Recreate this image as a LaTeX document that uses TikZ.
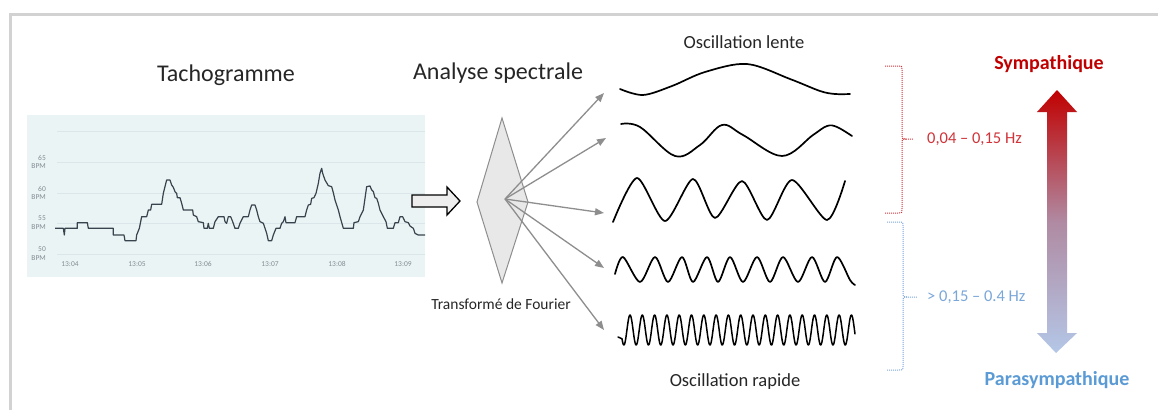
\documentclass[tikz,border=0pt]{standalone}
\usepackage{fontspec}
\setmainfont{Carlito}
\usetikzlibrary{arrows.meta}
\definecolor{symred}{HTML}{C00000}
\definecolor{parablue}{HTML}{5B9BD5}
\definecolor{arrowblue}{HTML}{B4C7E7}
\definecolor{arrowmid}{HTML}{B08AA2}
\definecolor{rangered}{HTML}{D0343A}
\definecolor{rangeblue}{HTML}{7AA7D9}
\definecolor{chartbg}{HTML}{EBF4F5}
\definecolor{gridc}{HTML}{DAE6E9}
\definecolor{tracec}{HTML}{37434D}
\definecolor{axlabc}{HTML}{838C93}
\definecolor{fftgray}{HTML}{8E8E8E}
\definecolor{framec}{HTML}{D2D2D2}
\begin{document}
\begin{tikzpicture}[x=1pt,y=-1pt,
  title/.style={font=\fontsize{24}{28}\selectfont, text=black!85},
  osclabel/.style={font=\fontsize{18.5}{22}\selectfont, text=black!85},
  axlab/.style={font=\fontsize{7.5}{8}\selectfont, text=axlabc, inner sep=0pt},
  fftarrow/.style={draw=fftgray, line width=1.3pt, -{Triangle[length=9pt,width=7pt]}},
  wave/.style={draw=black, line width=1.7pt, line join=round, line cap=round},
  rangetext/.style={font=\fontsize{16.5}{19}\selectfont, anchor=west, inner sep=0pt},
  brace/.style={densely dotted, line width=1pt},
  pole/.style={font=\bfseries\fontsize{20}{24}\selectfont}
]
\useasboundingbox (0,0) rectangle (1158,410);
\fill[white] (0,0) rectangle (1158,410);
\draw[line width=3pt, framec] (10,410) -- (10,14) -- (1158,14);

% titles
\node[title] (tacho) at (226,75) {Tachogramme};
\node[title] (spec) at (498,73) {Analyse spectrale};
\node[osclabel] (lente) at (744,42) {Oscillation lente};
\node[osclabel] (rapide) at (735,382) {Oscillation rapide};
\node[font=\fontsize{15.5}{18}\selectfont, text=black!85] (fourier) at (501,304) {Transformé de Fourier};

% chart
\fill[chartbg] (27,115) rectangle (425,277);
\foreach \y in {131,162,193,223,254} \draw[gridc, line width=0.8pt] (57,\y) -- (425,\y);
\foreach \v/\y [count=\i] in {65/162,60/193,55/223,50/254} {
  \node[axlab, anchor=east] (yv\i) at (46,\y-4.5) {\v};
  \node[axlab, anchor=east] (yb\i) at (46,\y+4.5) {BPM};
}
\foreach \t/\x [count=\i] in {13:04/70,13:05/137,13:06/203,13:07/270,13:08/337,13:09/403}
  \node[axlab] (xt\i) at (\x,264) {\t};
\begin{scope}[shift={(0,100)}, scale=0.33333]
\draw[tracec, line width=1.2pt, line join=round] (165,385) -- (190,385) -- (193,405) -- (195,385) -- (232,385) -- (232,368) -- (262,368) -- (265,385) -- (340,385) -- (340,405) -- (372,405) -- (375,422) -- (408,422) -- (410,405) -- (418,385) -- (425,350) -- (440,350) -- (445,330) -- (452,330) -- (455,313) -- (485,313) -- (490,280) -- (495,260) -- (500,240) -- (510,240) -- (515,255) -- (520,262) -- (525,275) -- (530,280) -- (532,293) -- (540,293) -- (545,310) -- (550,330) -- (578,330) -- (580,345) -- (590,350) -- (595,365) -- (610,368) -- (612,385) -- (622,385) -- (625,370) -- (628,385) -- (640,385) -- (645,365) -- (655,350) -- (672,350) -- (675,365) -- (680,370) -- (685,350) -- (692,350) -- (698,365) -- (705,385) -- (715,385) -- (720,370) -- (730,350) -- (745,350) -- (750,330) -- (755,315) -- (765,315) -- (770,330) -- (775,350) -- (780,365) -- (790,370) -- (795,385) -- (800,400) -- (805,422) -- (815,422) -- (820,405) -- (828,385) -- (840,385) -- (845,370) -- (850,365) -- (855,350) -- (858,368) -- (885,368) -- (890,350) -- (915,350) -- (920,330) -- (925,315) -- (932,313) -- (935,295) -- (942,293) -- (948,280) -- (955,250) -- (960,220) -- (965,205) -- (968,220) -- (975,240) -- (985,257) -- (995,260) -- (1000,278) -- (1005,300) -- (1015,330) -- (1020,350) -- (1030,385) -- (1060,385) -- (1062,368) -- (1075,365) -- (1080,350) -- (1090,330) -- (1100,260) -- (1110,258) -- (1115,270) -- (1120,275) -- (1125,293) -- (1130,295) -- (1135,310) -- (1140,330) -- (1150,350) -- (1158,365) -- (1162,385) -- (1180,385) -- (1185,368) -- (1195,368) -- (1200,350) -- (1208,350) -- (1215,365) -- (1225,368) -- (1230,378) -- (1240,385) -- (1245,400) -- (1255,405) -- (1275,405);
\end{scope}

% hollow arrow
\draw[line width=1.3pt, fill=black!7, line join=miter] (412,195) -- (447,195) -- (447,187) -- (460,201) -- (447,215) -- (447,207) -- (412,207) -- cycle;

% Fourier diamond and arrows
\draw[fftgray, line width=1pt, fill=black!9] (502,118) -- (528,202) -- (502,283) -- (477,202) -- cycle;
\coordinate (fc) at (505,199);
\coordinate (w1) at (604,93);
\coordinate (w2) at (606,138);
\coordinate (w3) at (604,213);
\coordinate (w4) at (604,268);
\coordinate (w5) at (604,330);
\foreach \w in {w1,w2,w3,w4,w5} \draw[fftarrow] (fc) -- (\w);

% waves
\draw[wave] plot[smooth, tension=0.55] coordinates {(620,89) (643,95) (672,86) (705,72) (747,64) (790,79) (820,91) (835,94) (850,94)};
\draw[wave] plot[smooth, tension=0.6] coordinates {(621,124) (640,127) (675,156) (700,145) (722,125) (743,135) (782,156) (813,135) (827,126) (837,127) (852,136)};
\draw[wave] plot[smooth, tension=0.45] coordinates {(613,222) (637,178) (665,221) (693,179) (715,218) (742,181) (767,220) (792,180) (827,220) (845,181)};
\draw[wave] plot[smooth, tension=0.5] coordinates {(615,274) (623,257) (640,282) (655,257) (668,282) (682,257) (693,282) (707,257) (718,282) (730,257) (743,282) (757,257) (770,282) (783,257) (798,282) (812,257) (825,282) (837,257) (850,280) (855,285)};
\draw[wave, line width=1.5pt] (618,337) -- plot[domain=622:855, samples=500] (\x, {330 - 15*cos((\x-630)/12.3*360)});

% ranges
\draw[rangered, brace] (885,66) -- (898,66) .. controls (902,66) .. (902,70) -- (902,134) .. controls (902,139) .. (906,139) -- (913,139);
\draw[rangered, brace] (906,139) .. controls (902,139) .. (902,144) -- (902,208) .. controls (902,213) .. (898,213) -- (885,213);
\node[rangetext, text=rangered] (lf) at (927,139) {0,04 – 0,15 Hz};
\draw[rangeblue, brace] (887,222) -- (899,222) .. controls (903,222) .. (903,226) -- (903,292) .. controls (903,297) .. (907,297) -- (917,297);
\draw[rangeblue, brace] (907,297) .. controls (903,297) .. (903,302) -- (903,366) .. controls (903,370) .. (899,370) -- (887,370);
\node[rangetext, text=rangeblue] (hf) at (927,297) {> 0,15 – 0.4 Hz};

% gradient double arrow
\shade[top color=symred, bottom color=arrowblue, middle color=arrowmid] (1057,90) -- (1077,112) -- (1067,112) -- (1067,333) -- (1077,333) -- (1056,353) -- (1037,333) -- (1047,333) -- (1047,112) -- (1037,112) -- cycle;
\node[pole, text=symred] (sym) at (1049,64) {Sympathique};
\node[pole, text=parablue] (para) at (1057,380) {Parasympathique};
\end{tikzpicture}
\end{document}
